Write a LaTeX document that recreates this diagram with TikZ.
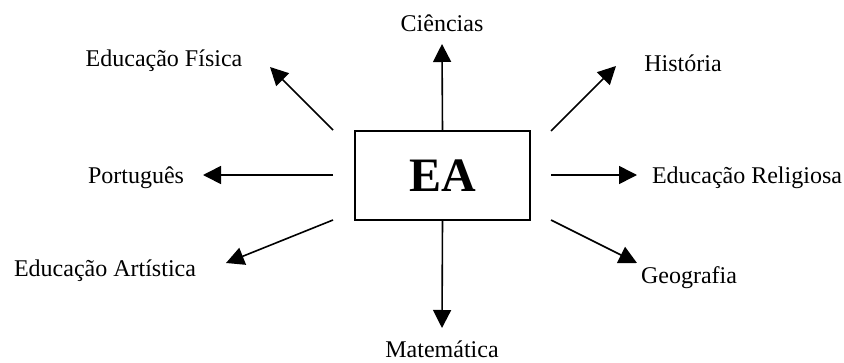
\documentclass[tikz,border=0pt]{standalone}
\usepackage{fontspec}
\setmainfont{Liberation Serif}
\usetikzlibrary{arrows.meta}
\begin{document}
\begin{tikzpicture}[x=1pt,y=-1pt,
  lbl/.style={inner sep=0pt,anchor=base,font=\fontsize{24}{26}\selectfont},
  conn/.style={line width=1.6pt,-{Triangle[length=18pt,width=18pt]}}]
\useasboundingbox (0,0) rectangle (844,362);
\node[draw,line width=1.6pt,minimum width=175pt,minimum height=89pt,inner sep=0pt,
  font=\fontsize{48}{50}\selectfont\bfseries] (ea) at (442.5,175.5) {EA};
% labels
\node[lbl] (cie) at (442,31) {Ciências};
\node[lbl] (mat) at (442,357) {Matemática};
\node[lbl] (por) at (136,183) {Português};
\node[lbl] (rel) at (747,183) {Educação Religiosa};
\node[lbl] (fis) at (164,66) {Educação Física};
\node[lbl] (his) at (683,71) {História};
\node[lbl] (art) at (105,276) {Educação Artística};
\node[lbl] (geo) at (689,283) {Geografia};
% arrow ends
\coordinate (tcie) at (442,44);
\coordinate (tmat) at (442,328);
\coordinate (spor) at (333,175); \coordinate (tpor) at (203,175);
\coordinate (srel) at (551,175); \coordinate (trel) at (637,175);
\coordinate (sfis) at (333,130); \coordinate (tfis) at (270,67);
\coordinate (shis) at (551,131); \coordinate (this) at (616,66);
\coordinate (sart) at (333,220); \coordinate (tart) at (226,263);
\coordinate (sgeo) at (551,220); \coordinate (tgeo) at (637,263);
\draw[conn] (ea.north) -- (tcie);
\draw[conn] (ea.south) -- (tmat);
\draw[conn] (spor) -- (tpor);
\draw[conn] (srel) -- (trel);
\draw[conn] (sfis) -- (tfis);
\draw[conn] (shis) -- (this);
\draw[conn] (sart) -- (tart);
\draw[conn] (sgeo) -- (tgeo);
\end{tikzpicture}
\end{document}
